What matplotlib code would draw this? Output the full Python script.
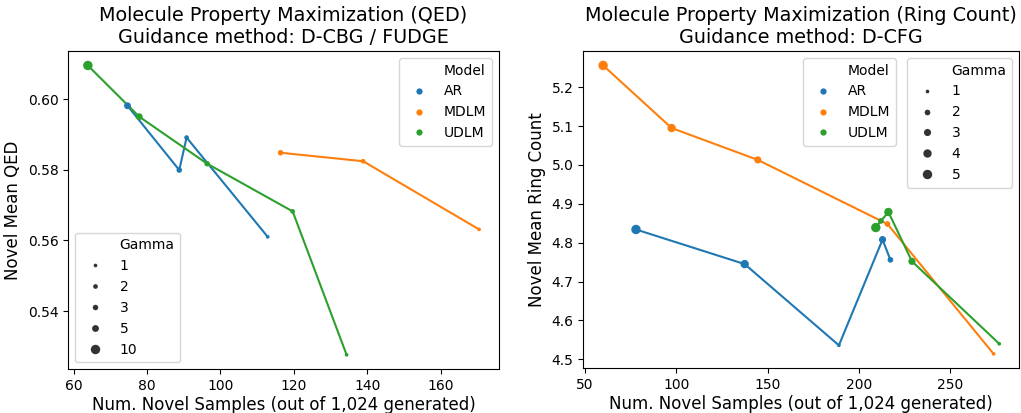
import matplotlib
matplotlib.use('Agg')
import matplotlib.pyplot as plt
from matplotlib.lines import Line2D
import numpy as np

# QED panel (D-CBG / FUDGE)
qed_ar_x = [74.7, 88.8, 90.8, 112.9]
qed_ar_y = [0.5981, 0.5799, 0.5891, 0.5610]
qed_ar_g = [5, 3, 2, 1]
qed_mdlm_x = [116.4, 138.9, 170.5]
qed_mdlm_y = [0.5848, 0.5824, 0.5631]
qed_mdlm_g = [3, 2, 1]
qed_udlm_x = [63.9, 77.9, 96.4, 119.7, 134.4]
qed_udlm_y = [0.6095, 0.5950, 0.5817, 0.5682, 0.5276]
qed_udlm_g = [10, 5, 3, 2, 1]
qed_gammas = [1, 2, 3, 5, 10]

# Ring count panel (D-CFG)
ring_ar_x = [77.9, 137.4, 189.0, 212.9, 217.2]
ring_ar_y = [4.834, 4.745, 4.536, 4.808, 4.756]
ring_ar_g = [5, 4, 1, 3, 2]
ring_mdlm_x = [59.9, 97.4, 144.6, 215.6, 273.7]
ring_mdlm_y = [5.256, 5.095, 5.013, 4.848, 4.514]
ring_mdlm_g = [5, 4, 3, 2, 1]
ring_udlm_x = [209.2, 212.0, 216.1, 229.0, 276.8]
ring_udlm_y = [4.839, 4.856, 4.879, 4.752, 4.540]
ring_udlm_g = [5, 2, 4, 3, 1]
ring_gammas = [1, 2, 3, 4, 5]

models = ['AR', 'MDLM', 'UDLM']
colors = ['#1f77b4', '#ff7f0e', '#2ca02c']


def size_of(g, gammas, smin=7, smax=46):
    return smin + (np.asarray(g, float) - min(gammas)) / (max(gammas) - min(gammas)) * (smax - smin)


def draw(ax, series, gammas):
    for (x, y, g), c in zip(series, colors):
        order = np.argsort(x)
        xs = np.asarray(x)[order]
        ys = np.asarray(y)[order]
        ax.plot(xs, ys, color=c, lw=1.5, zorder=2)
        ax.scatter(x, y, s=size_of(g, gammas), color=c, zorder=3, linewidths=0)


def model_legend(ax, **kw):
    h = [Line2D([], [], ls='', marker='')]
    h += [Line2D([], [], ls='', marker='o', ms=4.5, color=c, mew=0) for c in colors]
    return ax.legend(h, ['Model'] + models, fontsize=10, **kw)


def gamma_legend(ax, gammas, **kw):
    h = [Line2D([], [], ls='', marker='')]
    h += [Line2D([], [], ls='', marker='o', ms=np.sqrt(size_of(g, gammas)), color='#333333', mew=0)
          for g in gammas]
    return ax.legend(h, ['Gamma'] + [str(g) for g in gammas], fontsize=10, **kw)


fig = plt.figure(figsize=(10.21, 4.13), dpi=100)
ax1 = fig.add_axes([0.0669, 0.1058, 0.4215, 0.7707])
ax2 = fig.add_axes([0.5713, 0.1082, 0.4268, 0.7683])

draw(ax1, [(qed_ar_x, qed_ar_y, qed_ar_g), (qed_mdlm_x, qed_mdlm_y, qed_mdlm_g),
           (qed_udlm_x, qed_udlm_y, qed_udlm_g)], qed_gammas)
draw(ax2, [(ring_ar_x, ring_ar_y, ring_ar_g), (ring_mdlm_x, ring_mdlm_y, ring_mdlm_g),
           (ring_udlm_x, ring_udlm_y, ring_udlm_g)], ring_gammas)

ax1.set_title('Molecule Property Maximization (QED)\nGuidance method: D-CBG / FUDGE', fontsize=13.8)
ax1.set_xlabel('Num. Novel Samples (out of 1,024 generated)', fontsize=12, labelpad=2)
ax1.set_ylabel('Novel Mean QED', fontsize=12)
ax1.set_xticks([60, 80, 100, 120, 140, 160])
ax1.set_yticks([0.54, 0.56, 0.58, 0.60])
ax1.set_yticklabels(['0.54', '0.56', '0.58', '0.60'])

ax2.set_title('Molecule Property Maximization (Ring Count)\nGuidance method: D-CFG', fontsize=13.8)
ax2.set_xlabel('Num. Novel Samples (out of 1,024 generated)', fontsize=12, labelpad=2)
ax2.set_ylabel('Novel Mean Ring Count', fontsize=12)
ax2.set_xticks([50, 100, 150, 200, 250])
ax2.set_yticks([4.5, 4.6, 4.7, 4.8, 4.9, 5.0, 5.1, 5.2])

for ax in (ax1, ax2):
    ax.tick_params(labelsize=10)

leg = model_legend(ax1, loc='upper right')
ax1.add_artist(leg)
gamma_legend(ax1, qed_gammas, loc='lower left')

leg = model_legend(ax2, loc='upper right', bbox_to_anchor=(0.733, 1.0))
ax2.add_artist(leg)
gamma_legend(ax2, ring_gammas, loc='upper right')

fig.savefig('out.png', dpi=100)
